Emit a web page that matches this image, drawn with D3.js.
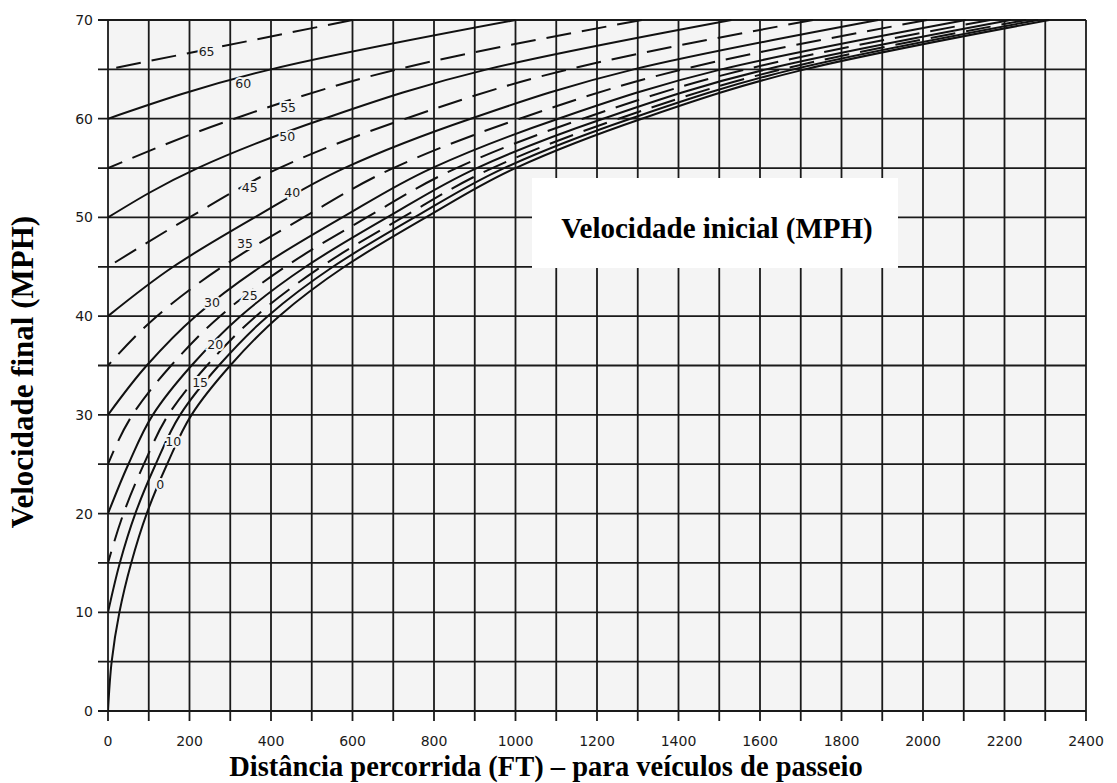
<!DOCTYPE html>
<html>
<head>
<meta charset="utf-8">
<script src="https://cdn.jsdelivr.net/npm/d3@7"></script>
<style>
  html, body { margin: 0; padding: 0; background: #ffffff; }
  svg { display: block; }
  .tick-label { font-family: "DejaVu Sans", sans-serif; font-size: 14px; fill: #1a1a1a; }
  .curve-label { font-family: "DejaVu Sans", sans-serif; font-size: 12.5px; fill: #1a1a1a;
                 stroke: #f4f4f4; stroke-width: 4px; paint-order: stroke; }
  .title { font-family: "Liberation Serif", "Times New Roman", serif; font-weight: bold; fill: #000; }
</style>
</head>
<body>
<svg id="chart" width="1117" height="783"></svg>
<script>
// Final speeds (MPH) at which each curve's distance is recorded
const finalSpeeds = [0, 5, 10, 15, 20, 25, 30, 35, 40, 45, 50, 55, 60, 65, 70];

// Initial speeds (MPH) of the curves, their line style and the distance (FT)
// travelled to reach each final speed up to 70, starting at the initial speed.
const initialSpeeds = [0, 10, 15, 20, 25, 30, 35, 40, 45, 50, 55, 60, 65];
const dashedCurves  = [false, false, true, false, true, false, true, false, true, false, true, false, true];

const dist0  = [0, 9, 28, 57, 95, 145, 205, 300, 420, 580, 780, 1000, 1310, 1710, 2310];
const dist10 = [0, 29, 67, 117, 177, 272, 392, 552, 752, 972, 1282, 1682, 2282];
const dist15 = [0, 38, 88, 148, 243, 363, 523, 723, 943, 1253, 1653, 2253];
const dist20 = [0, 50, 110, 205, 325, 485, 685, 905, 1215, 1615, 2215];
const dist25 = [0, 60, 155, 275, 435, 635, 855, 1165, 1565, 2165];
const dist30 = [0, 95, 215, 375, 575, 795, 1105, 1505, 2105];
const dist35 = [0, 120, 280, 480, 700, 1010, 1410, 2010];
const dist40 = [0, 160, 360, 580, 890, 1290, 1890];
const dist45 = [0, 200, 420, 730, 1130, 1730];
const dist50 = [0, 220, 530, 930, 1530];
const dist55 = [0, 310, 710, 1310];
const dist60 = [0, 400, 1000];
const dist65 = [0, 600];
const distances = [dist0, dist10, dist15, dist20, dist25, dist30, dist35,
                   dist40, dist45, dist50, dist55, dist60, dist65];

// Where each curve's label sits, as [distance FT, speed MPH]
const labelAt = [[128, 22.9], [160, 27.3], [226, 33.3], [263, 37.1], [348, 42.1], [255, 41.4],
                 [336, 47.4], [452, 52.5], [348, 53.0], [440, 58.2], [442, 61.1], [332, 63.6], [242, 66.8]];

// Axis tick labels
const xTickLabels = [0, 200, 400, 600, 800, 1000, 1200, 1400, 1600, 1800, 2000, 2200, 2400];
const yTickLabels = [0, 10, 20, 30, 40, 50, 60, 70];

const xTitle = "Distância percorrida (FT) – para veículos de passeio";
const yTitle = "Velocidade final (MPH)";
const boxTitle = "Velocidade inicial (MPH)";

const svg = d3.select("#chart");

const x = d3.scaleLinear().domain([0, 2400]).range([108, 1086]);
const y = d3.scaleLinear().domain([0, 70]).range([711, 20]);

// plot paper
svg.append("rect")
  .attr("x", x(0)).attr("y", y(70))
  .attr("width", x(2400) - x(0)).attr("height", y(0) - y(70))
  .attr("fill", "#f4f4f4");

// grid: every 100 FT and every 5 MPH, with short ticks beyond the axes
const grid = svg.append("g").attr("stroke", "#1a1a1a").attr("stroke-width", 1.8);
x.ticks(24).forEach(v => {
  grid.append("line")
    .attr("x1", x(v)).attr("x2", x(v))
    .attr("y1", y(70)).attr("y2", y(0) + 10);
});
y.ticks(14).forEach(v => {
  grid.append("line")
    .attr("x1", x(0) - 10).attr("x2", x(2400))
    .attr("y1", y(v)).attr("y2", y(v));
});

// curves, clipped to the plotting area
svg.append("clipPath").attr("id", "plot-clip")
  .append("rect")
  .attr("x", x(0)).attr("y", y(70) - 1)
  .attr("width", x(2400) - x(0)).attr("height", y(0) - y(70) + 1);

const line = d3.line()
  .x(d => x(d.dist))
  .y(d => y(d.speed))
  .curve(d3.curveMonotoneY);

const curves = svg.append("g").attr("clip-path", "url(#plot-clip)");
initialSpeeds.forEach((v0, i) => {
  const speeds = finalSpeeds.filter(s => s >= v0);
  const pts = distances[i].map((d, j) => ({ dist: d, speed: speeds[j] })).reverse();
  curves.append("path")
    .datum(pts)
    .attr("d", line)
    .attr("fill", "none")
    .attr("stroke", "#111")
    .attr("stroke-width", 2)
    .attr("stroke-dasharray", dashedCurves[i] ? "25,11" : null);
});

// curve labels
initialSpeeds.forEach((v0, i) => {
  svg.append("text")
    .attr("class", "curve-label")
    .attr("x", x(labelAt[i][0]))
    .attr("y", y(labelAt[i][1]))
    .attr("text-anchor", "middle")
    .attr("dominant-baseline", "central")
    .text(v0);
});

// tick labels
svg.append("g").selectAll("text")
  .data(xTickLabels).join("text")
  .attr("class", "tick-label")
  .attr("x", d => x(d))
  .attr("y", 741)
  .attr("text-anchor", "middle")
  .attr("dominant-baseline", "central")
  .text(d => d);

svg.append("g").selectAll("text")
  .data(yTickLabels).join("text")
  .attr("class", "tick-label")
  .attr("x", 93)
  .attr("y", d => y(d))
  .attr("text-anchor", "end")
  .attr("dominant-baseline", "central")
  .text(d => d);

// box with the initial-speed caption
svg.append("rect")
  .attr("x", 532).attr("y", 178)
  .attr("width", 366).attr("height", 90)
  .attr("fill", "#ffffff");
svg.append("text")
  .attr("class", "title")
  .attr("x", 717).attr("y", 238)
  .attr("text-anchor", "middle")
  .attr("font-size", 29)
  .text(boxTitle);

// axis titles
svg.append("text")
  .attr("class", "title")
  .attr("x", 546).attr("y", 776)
  .attr("text-anchor", "middle")
  .attr("font-size", 28.5)
  .text(xTitle);

svg.append("text")
  .attr("class", "title")
  .attr("transform", "translate(33,372) rotate(-90)")
  .attr("text-anchor", "middle")
  .attr("font-size", 31)
  .text(yTitle);
</script>
</body>
</html>
